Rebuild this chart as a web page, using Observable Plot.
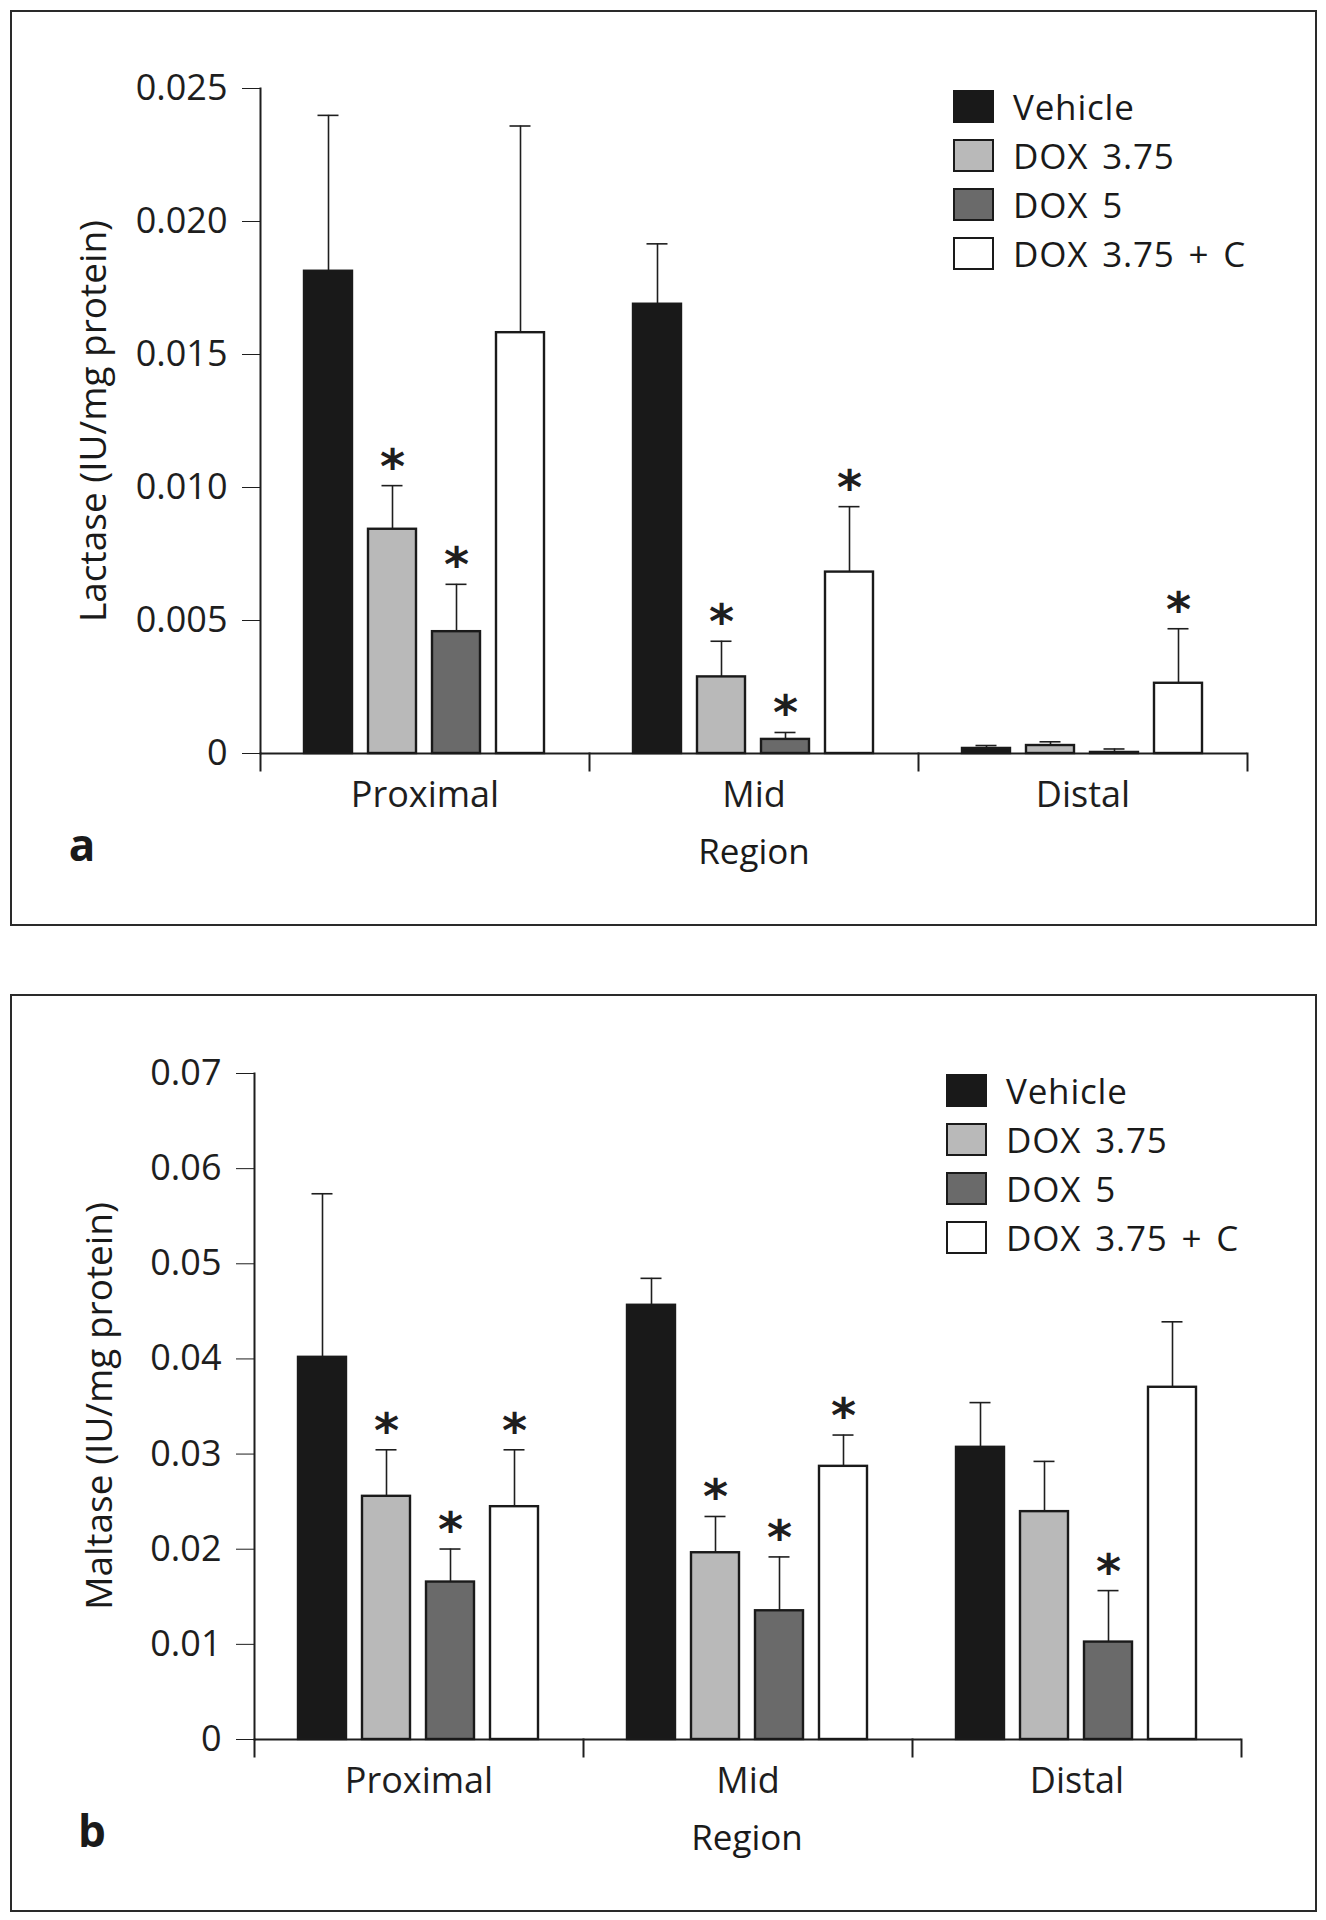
<!DOCTYPE html>
<html><head><meta charset="utf-8">
<script src="https://cdn.jsdelivr.net/npm/d3@7"></script>
<script src="https://cdn.jsdelivr.net/npm/@observablehq/plot@0.6"></script>
<style>
html,body{margin:0;padding:0;background:#fff;}
body{width:1326px;height:1920px;position:relative;font-family:"Open Sans",sans-serif;color:#1a1a1a;overflow:hidden}
.svgwrap{position:absolute;left:0}
.frame{position:absolute;border:2px solid #2a2a2a;box-sizing:border-box;pointer-events:none}
.lg{position:absolute;display:flex;align-items:center;height:40px;font-size:35px;letter-spacing:0.8px;word-spacing:4px;white-space:nowrap}
.sw{width:41px;height:33px;box-sizing:border-box;border:2.5px solid #1a1a1a;margin-right:19px;flex:none}
.lbl{position:absolute;font-size:35px;line-height:40px;transform:translateX(-50%);white-space:nowrap}
.ylbl{font-size:37px}
.tag{position:absolute;font-size:44px;font-weight:700;line-height:50px;transform:translateX(-50%)}
</style>
</head><body>
<div id="root"></div>
<script>
// ---- data ----
const regions = ["Proximal", "Mid", "Distal"];
const treatments = ["Vehicle", "DOX 3.75", "DOX 5", "DOX 3.75 + C"];
const fills = ["#191919", "#b9b9b9", "#6a6a6a", "#ffffff"];

// Lactase (IU/mg protein): mean and top of error bar, per region, treatment order as above
const lactaseProximal = [0.01813, 0.00843, 0.00458, 0.01582];
const lactaseProximalUpper = [0.02399, 0.01007, 0.00636, 0.02359];
const lactaseMid = [0.01689, 0.00288, 0.00053, 0.00682];
const lactaseMidUpper = [0.01916, 0.00422, 0.00079, 0.00928];
const lactaseDistal = [0.00019, 0.00030, 0.00004, 0.00264];
const lactaseDistalUpper = [0.00030, 0.00044, 0.00017, 0.00469];
const lactaseStars = [[0, 1, 1, 0], [0, 1, 1, 1], [0, 0, 0, 1]];
const lactaseTicks = [0, 0.005, 0.010, 0.015, 0.020, 0.025];

// Maltase (IU/mg protein)
const maltaseProximal = [0.04017, 0.02556, 0.01655, 0.02447];
const maltaseProximalUpper = [0.05736, 0.03045, 0.02002, 0.03045];
const maltaseMid = [0.04564, 0.01963, 0.01353, 0.02871];
const maltaseMidUpper = [0.04847, 0.02344, 0.01919, 0.03200];
const maltaseDistal = [0.03071, 0.02395, 0.01024, 0.03702];
const maltaseDistalUpper = [0.03541, 0.02923, 0.01565, 0.04390];
const maltaseStars = [[0, 1, 1, 1], [0, 1, 1, 1], [0, 0, 1, 0]];
const maltaseTicks = [0, 0.01, 0.02, 0.03, 0.04, 0.05, 0.06, 0.07];

function buildRows(means, uppers, stars) {
  const rows = [];
  regions.forEach((r, ri) => treatments.forEach((t, ti) => rows.push({
    region: r, treatment: t, value: means[ri][ti], upper: uppers[ri][ti], star: !!stars[ri][ti]
  })));
  return rows;
}

const lactaseRows = buildRows([lactaseProximal, lactaseMid, lactaseDistal],
  [lactaseProximalUpper, lactaseMidUpper, lactaseDistalUpper], lactaseStars);
const maltaseRows = buildRows([maltaseProximal, maltaseMid, maltaseDistal],
  [maltaseProximalUpper, maltaseMidUpper, maltaseDistalUpper], maltaseStars);

const INK = "#1e1e1e";

function panel({rows, ticks, fmt, height, marginTop, marginBottom, marginLeft, marginRight}) {
  const innerH = height - marginTop - marginBottom;
  return Plot.plot({
    width: 1326, height, marginTop, marginBottom, marginLeft, marginRight,
    style: {fontFamily: "Open Sans, sans-serif", fontSize: "36px", color: INK, background: "transparent", overflow: "visible"},
    facet: {data: rows, x: "region"},
    fx: {domain: regions, padding: 0, axis: "bottom", tickSize: 0, tickPadding: 28, label: null, fontSize: 35},
    x: {domain: treatments, axis: null, paddingInner: 0.246, paddingOuter: 0.66},
    y: {domain: [ticks[0], ticks[ticks.length - 1]], ticks, tickFormat: fmt, tickSize: 18, tickPadding: 15, label: null},
    color: {domain: treatments, range: fills},
    marks: [
      Plot.frame({anchor: "left", facetAnchor: "left", stroke: INK, strokeWidth: 2}),
      Plot.frame({anchor: "left", insetTop: innerH, insetBottom: -17, stroke: INK, strokeWidth: 2}),
      Plot.frame({anchor: "right", facetAnchor: "right", insetTop: innerH, insetBottom: -17, stroke: INK, strokeWidth: 2}),
      Plot.ruleY([0], {stroke: INK, strokeWidth: 2}),
      Plot.ruleX(rows, {x: "treatment", y1: "value", y2: "upper", stroke: INK, strokeWidth: 1.6}),
      Plot.tickY(rows, {x: "treatment", y: "upper", insetLeft: 13.5, insetRight: 13.5, stroke: INK, strokeWidth: 1.6}),
      Plot.barY(rows, {x: "treatment", y: "value", fill: "treatment", stroke: "#1a1a1a", strokeWidth: 2.4}),
      Plot.text(rows, {filter: d => d.star, x: "treatment", y: "upper", text: () => "*",
        fontFamily: "DejaVu Sans", fontWeight: "bold", fontSize: 48, lineAnchor: "bottom", dy: -3, fill: INK})
    ]
  });
}

const root = document.getElementById("root");

function addPanel({top, svgHeight, frameTop, frameHeight, cfg, yLabel, yLabelX, legendX, legendY0, regionXY, tag, tagXY}) {
  const wrap = document.createElement("div");
  wrap.className = "svgwrap";
  wrap.style.top = top + "px";
  wrap.appendChild(panel({...cfg, height: svgHeight}));
  root.appendChild(wrap);

  const frame = document.createElement("div");
  frame.className = "frame";
  Object.assign(frame.style, {left: "10px", top: frameTop + "px", width: "1307px", height: frameHeight + "px"});
  root.appendChild(frame);

  // rotated y label
  const yl = document.createElement("div");
  yl.className = "lbl ylbl";
  yl.textContent = yLabel;
  const yCenter = top + cfg.marginTop + (svgHeight - cfg.marginTop - cfg.marginBottom) / 2;
  Object.assign(yl.style, {left: yLabelX + "px", top: (yCenter - 20) + "px", transform: "translateX(-50%) rotate(-90deg)"});
  root.appendChild(yl);

  treatments.forEach((t, i) => {
    const row = document.createElement("div");
    row.className = "lg";
    row.style.left = legendX + "px";
    row.style.top = (legendY0 + i * 49 - 20) + "px";
    const sw = document.createElement("div");
    sw.className = "sw";
    sw.style.background = fills[i];
    if (i === 0) sw.style.borderColor = fills[0];
    row.appendChild(sw);
    row.appendChild(document.createTextNode(t));
    root.appendChild(row);
  });

  const rg = document.createElement("div");
  rg.className = "lbl";
  rg.textContent = "Region";
  Object.assign(rg.style, {left: regionXY[0] + "px", top: (regionXY[1] - 20) + "px"});
  root.appendChild(rg);

  const tg = document.createElement("div");
  tg.className = "tag";
  tg.textContent = tag;
  Object.assign(tg.style, {left: tagXY[0] + "px", top: (tagXY[1] - 28) + "px"});
  root.appendChild(tg);
}

addPanel({
  top: 0, svgHeight: 930, frameTop: 10, frameHeight: 916,
  cfg: {rows: lactaseRows, ticks: lactaseTicks, fmt: d => d === 0 ? "0" : d.toFixed(3),
        marginTop: 88, marginBottom: 177, marginLeft: 259, marginRight: 79},
  yLabel: "Lactase (IU/mg protein)", yLabelX: 92,
  legendX: 953, legendY0: 106, regionXY: [754, 851], tag: "a", tagXY: [82, 847]
});

addPanel({
  top: 960, svgHeight: 960, frameTop: 994, frameHeight: 918,
  cfg: {rows: maltaseRows, ticks: maltaseTicks, fmt: d => d === 0 ? "0" : d.toFixed(2),
        marginTop: 113, marginBottom: 181, marginLeft: 253, marginRight: 85},
  yLabel: "Maltase (IU/mg protein)", yLabelX: 98,
  legendX: 946, legendY0: 1090, regionXY: [747, 1837], tag: "b", tagXY: [92, 1833]
});
</script>
</body></html>
